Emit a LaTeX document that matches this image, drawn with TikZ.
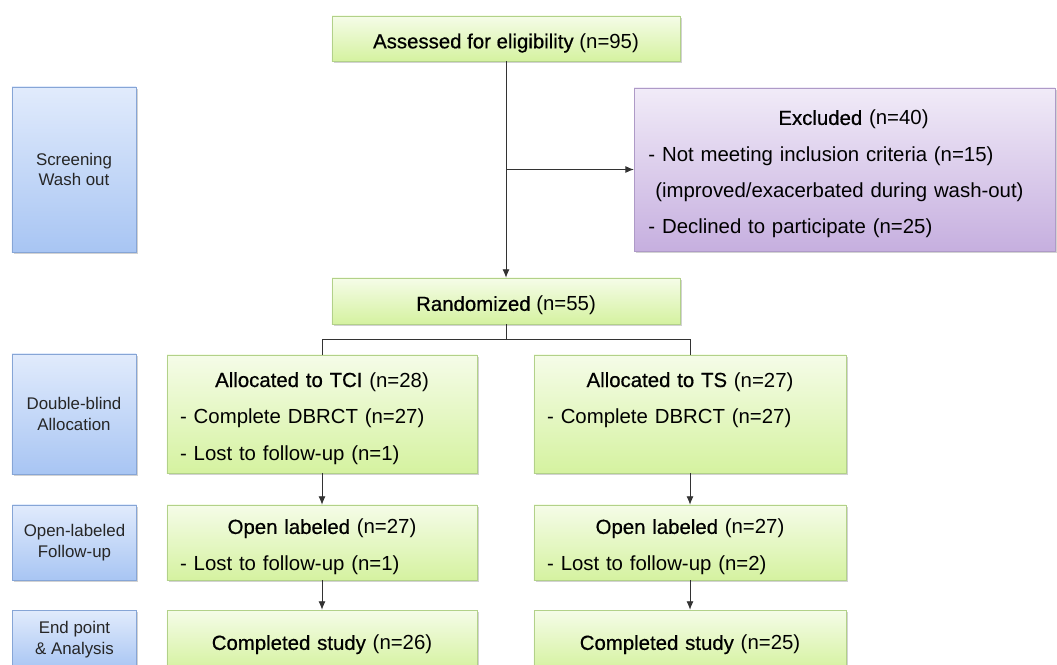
\documentclass[tikz,border=0pt]{standalone}
\usepackage{fontspec}
\setmainfont{Liberation Sans}
\newfontfamily\headfont[FakeBold=0.6]{Liberation Sans}
\usepackage{tikz}
\usetikzlibrary{arrows.meta,shadows,positioning}

\definecolor{grtop}{HTML}{F5FCE8}
\definecolor{grbot}{HTML}{D5F2A0}
\definecolor{grline}{HTML}{B2D189}
\definecolor{putop}{HTML}{F1EBF8}
\definecolor{pubot}{HTML}{C6AFDF}
\definecolor{puline}{HTML}{AE9AC7}
\definecolor{bltop}{HTML}{E1EBFC}
\definecolor{blbot}{HTML}{A8C5F3}
\definecolor{blline}{HTML}{86A5D6}

% strut that sets the first line a little lower, as in the slides
\newcommand{\hstrut}{\rule{0pt}{17pt}}
% centred heading line inside a left aligned box
\newcommand{\hd}[3][0pt]{\hstrut\hfill\hspace*{#1}{\headfont #2} #3\hfill\null}

\begin{document}
\begin{tikzpicture}[x=0.025cm,y=-0.025cm,>={Latex[length=6pt,width=5pt]},
  shad/.style={drop shadow={shadow xshift=1.2pt,shadow yshift=-1.2pt,fill=black!35}},
  box/.style={shad,draw=grline,top color=grtop,bottom color=grbot,inner ysep=0pt,
    font=\fontsize{14.5}{26.2}\selectfont},
  lbox/.style={box,align=left,inner xsep=0.33cm},
  excl/.style={shad,draw=puline,top color=putop,bottom color=pubot,align=left,
    inner xsep=0.36cm,font=\fontsize{14.5}{25.8}\selectfont},
  stage/.style={shad,draw=blline,top color=bltop,bottom color=blbot,align=center,
    minimum width=3.1cm,text=black!85,font=\fontsize{12}{14.8}\selectfont},
  line/.style={draw=black!80,line width=0.6pt}]
  \useasboundingbox (0,0) rectangle (1057,664);

  % phases on the left
  \node[stage,minimum height=4.125cm] (screen) at (74,169.5) {Screening\\Wash out};
  \node[stage,minimum height=3cm] (dblind) at (74,414) {Double-blind\\Allocation};
  \node[stage,minimum height=1.875cm] (openlab) at (74.5,542.5) {Open-labeled\\Follow-up};
  \node[stage,minimum height=1.5cm] (endpt) at (74.5,640) {End point\\\& Analysis};

  % flow
  \node[box,minimum width=8.7cm,minimum height=1.125cm] (assess) at (506,38.5)
    {\hstrut{\headfont Assessed for eligibility} (n=95)};
  \node[excl,text width=9.8cm,minimum height=4.075cm] (excluded) at (844.5,169.5)
    {\hd[0.45cm]{Excluded}{(n=40)}\\- Not meeting inclusion criteria (n=15)\\
     \ (improved/exacerbated during wash-out)\\- Declined to participate (n=25)};
  \node[box,minimum width=8.7cm,minimum height=1.15cm] (rand) at (506,301)
    {\hstrut{\headfont Randomized} (n=55)};

  \node[lbox,text width=7.09cm,minimum height=2.95cm] (tci) at (322,414)
    {\hd{Allocated to TCI}{(n=28)}\\- Complete DBRCT (n=27)\\- Lost to follow-up (n=1)};
  \node[lbox,text width=7.14cm,minimum height=2.95cm] (ts) at (690,414)
    {\hd{Allocated to TS}{(n=27)}\\- Complete DBRCT (n=27)\\\vphantom{(}};

  \node[lbox,text width=7.09cm,minimum height=1.875cm] (openL) at (322,542.5)
    {\hd{Open labeled}{(n=27)}\\- Lost to follow-up (n=1)};
  \node[lbox,text width=7.14cm,minimum height=1.875cm] (openR) at (690,542.5)
    {\hd{Open labeled}{(n=27)}\\- Lost to follow-up (n=2)};

  \node[lbox,text width=7.09cm,minimum height=1.5cm] (doneL) at (322,640)
    {\hd{Completed study}{(n=26)}};
  \node[lbox,text width=7.14cm,minimum height=1.5cm] (doneR) at (690,640)
    {\hd{Completed study}{(n=25)}};

  % connectors
  \coordinate (fork) at (assess.south |- excluded.west);
  \coordinate (split) at (506,339);
  \draw[line,->] (assess.south) -- (rand.north);
  \draw[line,->] (fork) -- (excluded.west);
  \draw[line] (rand.south) -- (split) -| (tci.north);
  \draw[line] (split) -| (ts.north);
  \draw[line,->] (tci) -- (openL);
  \draw[line,->] (ts) -- (openR);
  \draw[line,->] (openL) -- (doneL);
  \draw[line,->] (openR) -- (doneR);
\end{tikzpicture}
\end{document}
